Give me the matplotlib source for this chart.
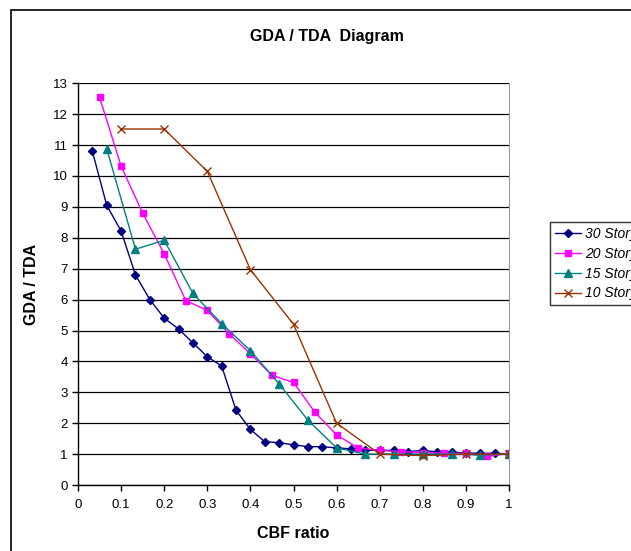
import numpy as np
import matplotlib.pyplot as plt
from matplotlib.patches import Rectangle

plt.rcParams['font.family'] = ['Liberation Sans', 'DejaVu Sans']

# dati
x30 = np.arange(1, 31) / 30
y30 = [10.8, 9.05, 8.22, 6.8, 6.0, 5.4, 5.05, 4.6, 4.15, 3.85,
       2.42, 1.8, 1.4, 1.37, 1.3, 1.24, 1.24, 1.2, 1.17, 1.13,
       1.12, 1.12, 1.08, 1.12, 1.07, 1.06, 1.04, 1.02, 1.03, 1.0]
x20 = np.arange(1, 21) / 20
y20 = [12.55, 10.32, 8.8, 7.48, 5.97, 5.65, 4.9, 4.25, 3.55, 3.32,
       2.35, 1.62, 1.2, 1.12, 1.08, 1.05, 1.03, 1.02, 0.93, 1.02]
x15 = np.arange(1, 16) / 15
y15 = [10.88, 7.63, 7.92, 6.2, 5.22, 4.35, 3.27, 2.1, 1.2, 1.0,
       1.0, 1.0, 1.0, 0.97, 1.0]
x10 = np.arange(1, 11) / 10
y10 = [11.52, 11.52, 10.15, 6.97, 5.2, 2.0, 1.0, 0.95, 1.0, 1.0]

labels = ['30 Story', '20 Story', '15 Story', '10 Story']

fig = plt.figure(figsize=(6.31, 5.51), dpi=100)
fig.patches.append(Rectangle((11 / 631, -0.1), 1.2, 1 - 10 / 551 + 0.1,
                             transform=fig.transFigure, fill=False,
                             edgecolor='black', linewidth=1.2))

ax = fig.add_axes([78 / 631, 1 - 485 / 551, 431 / 631, 401.7 / 551])

ax.plot(x30, y30, color='#000080', marker='D', markersize=4, lw=1, label=labels[0])
ax.plot(x20, y20, color='#FF00FF', marker='s', markersize=5, lw=1, label=labels[1])
ax.plot(x15, y15, color='#008080', marker='^', markersize=6, lw=1, label=labels[2])
ax.plot(x10, y10, color='#993300', marker='x', markersize=6, lw=1, label=labels[3])

ax.set_xlim(0, 1)
ax.set_ylim(0, 13)
ax.set_xticks(np.arange(0, 1.01, 0.1))
ax.set_xticklabels(['0', '0.1', '0.2', '0.3', '0.4', '0.5', '0.6', '0.7', '0.8', '0.9', '1'])
ax.set_yticks(range(0, 14))
ax.yaxis.grid(True, color='black', linewidth=0.9)
ax.set_axisbelow(True)
ax.tick_params(labelsize=9.5, direction='out', length=4, width=1)
ax.tick_params(axis='x', pad=6)
ax.spines['top'].set_visible(False)
ax.spines['right'].set_color('#999999')
ax.spines['left'].set_linewidth(1)
ax.spines['bottom'].set_linewidth(1)

ax.set_xlabel('CBF ratio', fontsize=11.5, fontweight='bold', labelpad=11)
ax.set_ylabel('GDA / TDA', fontsize=11.5, fontweight='bold', labelpad=10)
fig.text(327 / 631, 1 - 37 / 551, 'GDA / TDA  Diagram', ha='center', va='center',
         fontsize=11.5, fontweight='bold')

leg = ax.legend(loc='upper left', bbox_to_anchor=(550 / 631, 1 - 222 / 551),
                bbox_transform=fig.transFigure, frameon=True, fancybox=False,
                prop={'style': 'italic', 'size': 10}, handlelength=1.9,
                handletextpad=0.3, labelspacing=0.42, borderaxespad=0,
                borderpad=0.35)
leg.get_frame().set_edgecolor('black')
leg.get_frame().set_linewidth(1)

plt.savefig('out.png', dpi=100)
